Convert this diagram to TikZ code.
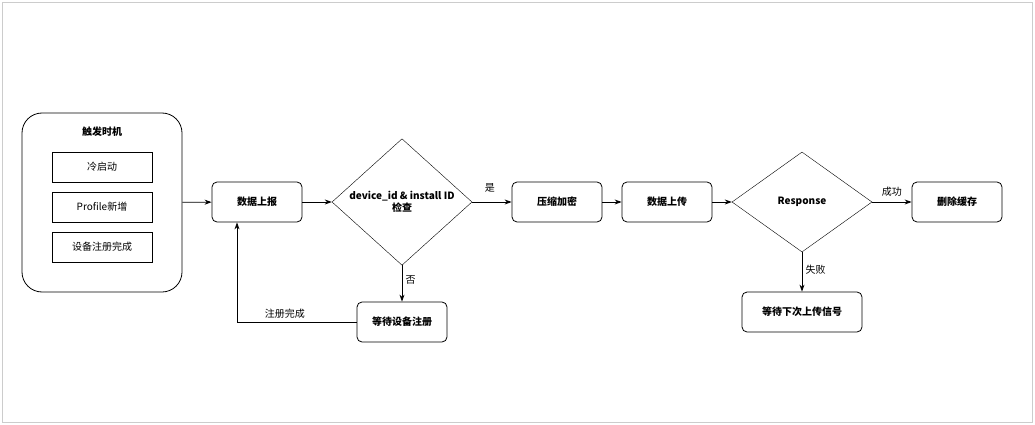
\documentclass[tikz,border=0pt]{standalone}
\usepackage{fontspec}
\setmainfont{Noto Sans CJK SC}
\usetikzlibrary{arrows.meta,shapes.geometric,positioning}

\begin{document}
\begin{tikzpicture}[x=1pt,y=-1pt,
  font=\fontsize{10}{12}\selectfont,
  >={Stealth[length=7pt,width=5pt]},
  step node/.style={rectangle,rounded corners=5pt,draw,thick,minimum width=90pt,minimum height=40pt,font=\fontsize{10}{12}\selectfont\bfseries},
  item node/.style={rectangle,draw,minimum width=100pt,minimum height=30pt},
  check node/.style={diamond,draw,minimum width=140pt,minimum height=100pt,inner sep=0pt,align=center,font=\fontsize{10}{12}\selectfont\bfseries},
  line/.style={draw,thick,->}]

  \draw[gray!40,fill=white] (2,2) rectangle (1032,422);
  \useasboundingbox (0,0) rectangle (1035,425);

  % trigger group
  \node[draw,thick,rounded corners=20pt,minimum width=160pt,minimum height=179pt] (trigger) at (102,202.5) {};
  \node[font=\fontsize{10}{12}\selectfont\bfseries] (title) at (102,132) {触发时机};
  \node[item node] (cold) at (102,167) {冷启动};
  \node[item node] (profile) at (102,207) {Profile新增};
  \node[item node] (register) at (102,247) {设备注册完成};

  % main flow
  \node[step node] (report) at (257,202) {数据上报};
  \node[check node] (check) at (402,202) {device\_id \& install ID\\检查};
  \node[step node] (encrypt) at (557,202) {压缩加密};
  \node[step node] (upload) at (667,202) {数据上传};
  \node[check node] (resp) at (802,202) {Response};
  \node[step node] (delete) at (957,202) {删除缓存};
  \node[step node,minimum width=120pt] (next) at (802,312) {等待下次上传信号};
  \node[step node] (waitreg) at (402,322) {等待设备注册};

  \draw[line] (trigger) -- (report);
  \draw[line] (report) -- (check);
  \draw[line] (check) -- node[above,pos=0.45,yshift=6pt] {是} (encrypt);
  \draw[line] (encrypt) -- (upload);
  \draw[line] (upload) -- (resp);
  \draw[line] (resp) -- node[above,yshift=2pt] {成功} (delete);
  \draw[line] (resp) -- node[right,pos=0.45] {失败} (next);
  \draw[line] (check) -- node[right,pos=0.4] {否} (waitreg);
  \draw[line] (waitreg.west) -| node[above,pos=0.3] {注册完成} ([xshift=-20pt]report.south);

\end{tikzpicture}
\end{document}
